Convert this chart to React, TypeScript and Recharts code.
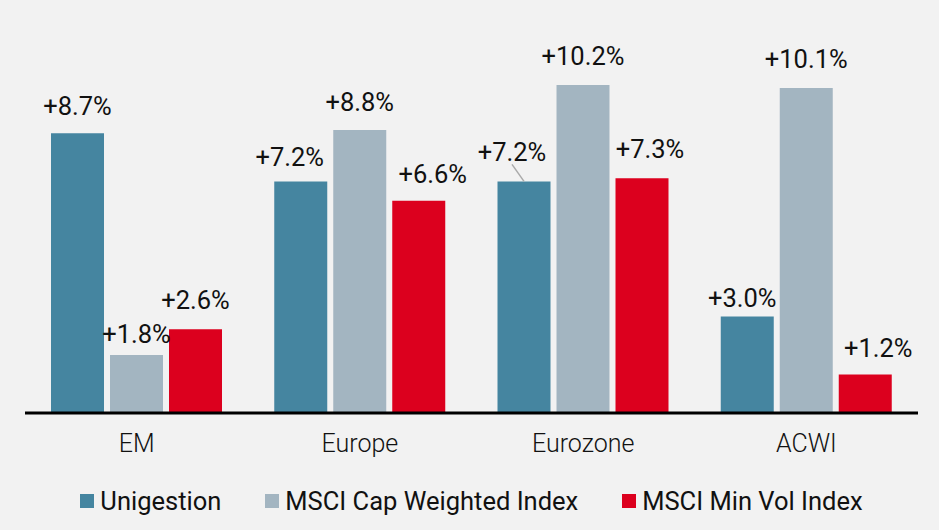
import React from 'react'
import { BarChart, Bar, XAxis, YAxis, Legend, LabelList } from 'recharts'

const categories = ['EM', 'Europe', 'Eurozone', 'ACWI']
const unigestion = [8.7, 7.2, 7.2, 3.0]
const capWeighted = [1.8, 8.8, 10.2, 10.1]
const minVol = [2.6, 6.6, 7.3, 1.2]

const SERIES = [
  { key: 'uni', name: 'Unigestion', color: '#4585a0' },
  { key: 'cap', name: 'MSCI Cap Weighted Index', color: '#a3b5c1' },
  { key: 'minVol', name: 'MSCI Min Vol Index', color: '#dc001e' },
]

const data = categories.map((name, i) => ({
  name,
  uni: unigestion[i],
  cap: capWeighted[i],
  minVol: minVol[i],
}))

// labels were hand-placed in the original to avoid overlapping
const NUDGE: Record<string, { dx: number; gap: number; leader?: boolean }[]> = {
  uni: [
    { dx: 0, gap: 18 },
    { dx: -11, gap: 15 },
    { dx: -12, gap: 20, leader: true },
    { dx: -5, gap: 10 },
  ],
  cap: [
    { dx: 0, gap: 12 },
    { dx: 0, gap: 19 },
    { dx: 0, gap: 20 },
    { dx: 0, gap: 20 },
  ],
  minVol: [
    { dx: 0, gap: 20 },
    { dx: 14, gap: 18 },
    { dx: 8, gap: 20 },
    { dx: 13, gap: 17 },
  ],
}

const FONT = 'Roboto, sans-serif'

const makeLabel = (key: string) => (props: any) => {
  const { x, y, width, value, index } = props
  const n = NUDGE[key][index] || { dx: 0, gap: 18 }
  const barX = Number(x) + Number(width) / 2
  const cx = barX + n.dx
  const base = Number(y) - n.gap
  return (
    <g>
      {n.leader && (
        <line x1={cx} y1={base + 3} x2={barX} y2={Number(y)} stroke="#aaaaaa" strokeWidth={1.5} />
      )}
      <text x={cx} y={base} textAnchor="middle" fontFamily={FONT} fontSize={25.5} fill="#111">
        {`+${Number(value).toFixed(1)}%`}
      </text>
    </g>
  )
}

const LegendContent = () => (
  <div
    style={{
      height: 67,
      display: 'flex',
      justifyContent: 'center',
      alignItems: 'center',
      paddingTop: 8,
      boxSizing: 'border-box',
      fontFamily: FONT,
      fontSize: 25.5,
      color: '#111',
    }}>
    {SERIES.map((s) => (
      <div key={s.key} style={{ display: 'flex', alignItems: 'center', margin: '0 22px' }}>
        <span style={{ width: 14, height: 14, background: s.color, marginRight: 6, display: 'inline-block' }} />
        <span>{s.name}</span>
      </div>
    ))}
  </div>
)

const App = () => (
  <div style={{ position: 'absolute', left: 0, top: 0, width: 939, height: 530, background: '#f2f2f2' }}>
    <BarChart
      width={939}
      height={530}
      data={data}
      margin={{ top: 27, right: 21, bottom: 0, left: 25 }}
      barSize={53}
      barGap={6}>
      <XAxis
        dataKey="name"
        axisLine={{ stroke: '#000', strokeWidth: 3 }}
        tickLine={false}
        height={50}
        tick={{ fontFamily: FONT, fontSize: 25, fontWeight: 300, fill: '#111', dy: 13 }}
      />
      <YAxis hide domain={[0, 12]} />
      <Legend verticalAlign="bottom" content={<LegendContent />} />
      {SERIES.map((s) => (
        <Bar key={s.key} dataKey={s.key} name={s.name} fill={s.color} isAnimationActive={false}>
          <LabelList dataKey={s.key} content={makeLabel(s.key)} />
        </Bar>
      ))}
    </BarChart>
  </div>
)

export default App
